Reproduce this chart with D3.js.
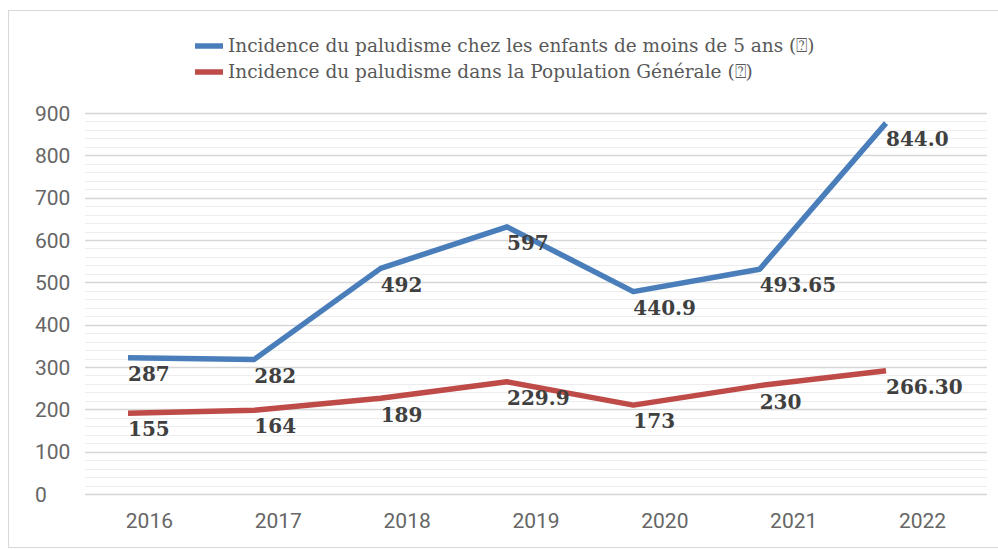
<!DOCTYPE html>
<html>
<head>
<meta charset="utf-8">
<script src="https://cdn.jsdelivr.net/npm/d3@7"></script>
<style>
  body { margin: 0; background: #fff; }
  svg { display: block; }
</style>
</head>
<body>
<svg id="chart" width="998" height="550"></svg>
<script>
// chart data
const years = ["2016", "2017", "2018", "2019", "2020", "2021", "2022"];
const enfants = [322, 318, 533, 631, 478, 531, 876];
const population = [191, 198, 226, 265, 210, 256, 291];
// data labels as printed on the original chart
const enfantsLabels = ["287", "282", "492", "597", "440.9", "493.65", "844.0"];
const populationLabels = ["155", "164", "189", "229.9", "173", "230", "266.30"];
const yTicks = [0, 100, 200, 300, 400, 500, 600, 700, 800, 900];
const seriesNames = [
  "Incidence du paludisme chez les enfants de moins de 5 ans (\u2370)",
  "Incidence du paludisme dans la Population Générale (\u2370)"
];
const colors = ["#4a7ebb", "#be4b48"];

const svg = d3.select("#chart");

// outer frame
svg.append("rect")
  .attr("x", 8.5).attr("y", 10.5)
  .attr("width", 1000).attr("height", 537)
  .attr("fill", "#fff")
  .attr("stroke", "#d9d9d9");

const plotLeft = 85, plotRight = 987;

const y = d3.scaleLinear().domain([0, 900]).range([494, 113]);
// category labels sit in the middle of each band
const xBand = d3.scaleBand().domain(years).range([plotLeft, plotRight]);
// the lines themselves are drawn a bit to the left in the original
const x = d3.scalePoint().domain(years).range([128, 886]);

// minor gridlines
svg.append("g")
  .selectAll("line")
  .data(d3.range(0, 901, 20).filter(v => v % 100 !== 0))
  .enter().append("line")
  .attr("x1", plotLeft).attr("x2", plotRight)
  .attr("y1", d => Math.round(y(d)) + 0.5)
  .attr("y2", d => Math.round(y(d)) + 0.5)
  .attr("stroke", "#ededed")
  .attr("stroke-width", 1);

// major gridlines
svg.append("g")
  .selectAll("line")
  .data(yTicks)
  .enter().append("line")
  .attr("x1", plotLeft).attr("x2", plotRight)
  .attr("y1", d => Math.round(y(d)) + 0.5)
  .attr("y2", d => Math.round(y(d)) + 0.5)
  .attr("stroke", "#d6d6d6")
  .attr("stroke-width", 1.5);

// y axis labels (left aligned like the original)
svg.append("g")
  .selectAll("text")
  .data(yTicks)
  .enter().append("text")
  .attr("x", 35)
  .attr("y", d => y(d))
  .attr("dy", "0.36em")
  .attr("font-family", "Roboto, sans-serif")
  .attr("font-size", 21)
  .attr("fill", "#666")
  .text(d => d);

// x axis labels
svg.append("g")
  .selectAll("text")
  .data(years)
  .enter().append("text")
  .attr("x", d => xBand(d) + xBand.bandwidth() / 2)
  .attr("y", 520)
  .attr("dy", "0.36em")
  .attr("text-anchor", "middle")
  .attr("font-family", "Roboto, sans-serif")
  .attr("font-size", 21)
  .attr("fill", "#666")
  .text(d => d);

const line = d3.line()
  .x((d, i) => x(years[i]))
  .y(d => y(d));

const series = [
  { values: enfants, labels: enfantsLabels, color: colors[0] },
  { values: population, labels: populationLabels, color: colors[1] }
];

series.forEach(s => {
  svg.append("path")
    .datum(s.values)
    .attr("d", line)
    .attr("fill", "none")
    .attr("stroke", s.color)
    .attr("stroke-width", 5.5)
    .attr("stroke-linejoin", "round");
});

// data labels below right of each point
series.forEach(s => {
  svg.append("g")
    .selectAll("text")
    .data(s.values)
    .enter().append("text")
    .attr("x", (d, i) => x(years[i]))
    .attr("y", d => y(d) + 16)
    .attr("dy", "0.36em")
    .attr("font-family", "DejaVu Serif, serif")
    .attr("font-weight", "bold")
    .attr("font-size", 20)
    .attr("fill", "#404040")
    .text((d, i) => s.labels[i]);
});

// legend
const legend = svg.append("g");
seriesNames.forEach((name, i) => {
  const ly = 46 + i * 26;
  legend.append("line")
    .attr("x1", 195).attr("x2", 223)
    .attr("y1", ly).attr("y2", ly)
    .attr("stroke", colors[i])
    .attr("stroke-width", 5.5);
  legend.append("text")
    .attr("x", 228)
    .attr("y", ly)
    .attr("dy", "0.34em")
    .attr("font-family", "DejaVu Serif, serif")
    .attr("font-size", 18.5)
    .attr("fill", "#595959")
    .text(name);
});
</script>
</body>
</html>
